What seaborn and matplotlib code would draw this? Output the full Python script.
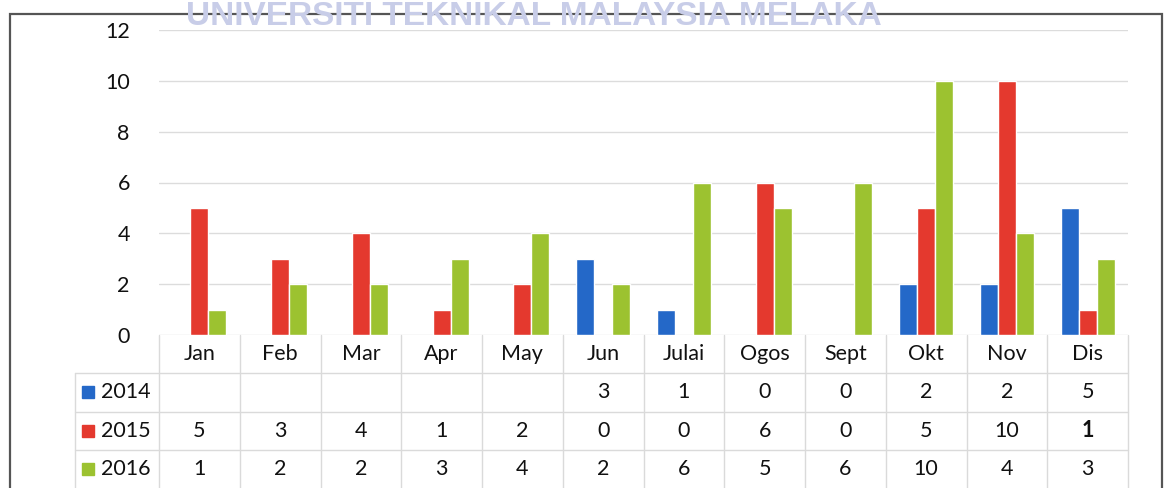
import numpy as np
import pandas as pd
import matplotlib
matplotlib.use("Agg")
import matplotlib.pyplot as plt
import seaborn as sns

months = ["Jan", "Feb", "Mar", "Apr", "May", "Jun", "Julai", "Ogos", "Sept", "Okt", "Nov", "Dis"]
years = ["2014", "2015", "2016"]
v2014 = [np.nan, np.nan, np.nan, np.nan, np.nan, 3, 1, 0, 0, 2, 2, 5]
v2015 = [5, 3, 4, 1, 2, 0, 0, 6, 0, 5, 10, 1]
v2016 = [1, 2, 2, 3, 4, 2, 6, 5, 6, 10, 4, 3]
colors = ["#2468c8", "#e4392e", "#9cc230"]

df = pd.DataFrame({"Bulan": months * 3,
                   "Tahun": [y for y in years for _ in months],
                   "Nilai": v2014 + v2015 + v2016})

sns.set_theme(style="white")
plt.rcParams["font.family"] = ["Lato", "DejaVu Sans"]

W, H = 1167, 488
fig = plt.figure(figsize=(W / 100, H / 100), dpi=100)

# chart frame
frame = plt.Rectangle((10 / W, -0.1), 1152 / W, (H - 14) / H + 0.1, transform=fig.transFigure,
                      fill=False, edgecolor="#555555", linewidth=1.6, zorder=1)
fig.patches.append(frame)
fig.text(534 / W, 1 - 25 / H, "UNIVERSITI TEKNIKAL MALAYSIA MELAKA", ha="center", va="baseline",
         fontsize=24, fontweight="bold", color="#c8cde8", family="Liberation Sans", zorder=5)

left, right = 159 / W, 1128 / W
ax = fig.add_axes([left, 1 - 335 / H, right - left, 305 / H])
sns.barplot(data=df, x="Bulan", y="Nilai", hue="Tahun", hue_order=years, order=months,
            palette=colors, width=0.67, saturation=1, errorbar=None, legend=False, ax=ax)
ax.set_xlim(-0.5, 11.5)
ax.set_ylim(0, 12)
ax.set_yticks(range(0, 13, 2))
ax.yaxis.grid(True, color="#dcdcdc", linewidth=1)
ax.set_axisbelow(True)
ax.set_xticks([])
ax.set_xlabel("")
ax.set_ylabel("")
ax.tick_params(axis="y", length=0, pad=21, labelsize=15.5, labelcolor="#111111")
for s in ax.spines.values():
    s.set_visible(False)
ax.patch.set_alpha(0)

# data table below the bars
ax_t = fig.add_axes([left, 0, right - left, 1 - 335 / H])
ax_t.set_xlim(-0.5, 11.5)
ax_t.set_ylim(4, 0)
ax_t.axis("off")
line_c = "#dadada"
x_leg = -0.5 - 84 / 80.7
for k in range(13):
    ax_t.plot([k - 0.5, k - 0.5], [0, 4], color=line_c, lw=1, clip_on=False)
for r in (1, 2, 3):
    ax_t.plot([x_leg, 11.5], [r, r], color=line_c, lw=1, clip_on=False)
ax_t.plot([x_leg, x_leg], [1, 4], color=line_c, lw=1, clip_on=False)

for i, m in enumerate(months):
    ax_t.text(i, 0.5, m, ha="center", va="center", fontsize=15.5, color="#111111")

rows = [v2014, v2015, v2016]
for r, (yr, vals, c) in enumerate(zip(years, rows, colors)):
    yc = r + 1.5
    ax_t.plot([x_leg + 0.16], [yc], marker="s", markersize=8, color=c, clip_on=False)
    ax_t.text(x_leg + 0.32, yc, yr, ha="left", va="center", fontsize=15.5, color="#111111")
    for i, v in enumerate(vals):
        if np.isnan(v):
            continue
        bold = (yr == "2015" and months[i] == "Dis")
        ax_t.text(i, yc, f"{int(v)}", ha="center", va="center", fontsize=15.5,
                  color="#111111", fontweight="bold" if bold else "normal")

fig.savefig("out.png", dpi=100)
